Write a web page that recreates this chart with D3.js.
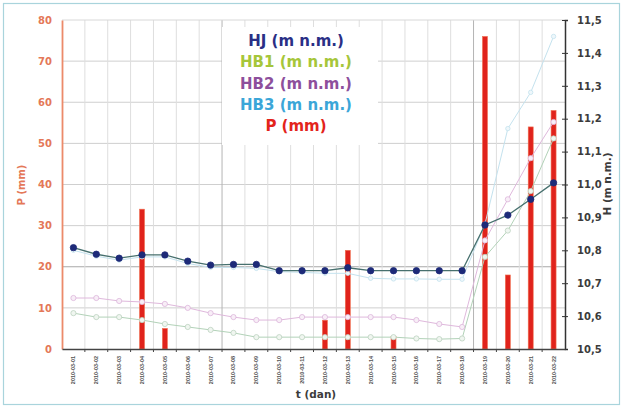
<!DOCTYPE html>
<html><head><meta charset="utf-8">
<script src="https://cdn.jsdelivr.net/npm/d3@7"></script>
<style>body{margin:0;background:#fff;}svg{display:block;font-family:"DejaVu Sans",Verdana,sans-serif;}</style>
</head><body><svg id="c" width="624" height="409"></svg>
<script>
const categories = ["2010-03-01","2010-03-02","2010-03-03","2010-03-04","2010-03-05","2010-03-06","2010-03-07","2010-03-08","2010-03-09","2010-03-10","2010-03-11","2010-03-12","2010-03-13","2010-03-14","2010-03-15","2010-03-16","2010-03-17","2010-03-18","2010-03-19","2010-03-20","2010-03-21","2010-03-22"];
const HJ  = [10.808,10.788,10.776,10.786,10.786,10.767,10.755,10.757,10.757,10.738,10.738,10.738,10.747,10.738,10.738,10.738,10.738,10.738,10.877,10.907,10.955,11.005];
const HB1 = [10.609,10.597,10.597,10.588,10.576,10.567,10.558,10.549,10.536,10.536,10.536,10.536,10.536,10.536,10.536,10.532,10.530,10.532,10.780,10.860,10.980,11.140];
const HB2 = [10.655,10.655,10.646,10.643,10.637,10.625,10.609,10.597,10.588,10.588,10.597,10.597,10.597,10.597,10.597,10.588,10.576,10.567,10.830,10.955,11.080,11.190];
const HB3 = [10.800,10.782,10.770,10.780,10.780,10.760,10.748,10.748,10.745,10.735,10.733,10.730,10.730,10.715,10.713,10.713,10.712,10.712,10.880,11.170,11.280,11.450];
const P   = [0,0,0,34,5,0,0,0,0,0,0,7,24,0,3,0,0,0,76,18,54,58];
const pTicks = [0,10,20,30,40,50,60,70,80];
const hTicks = [10.5,10.6,10.7,10.8,10.9,11.0,11.1,11.2,11.3,11.4,11.5];
const legendItems = ["HJ (m n.m.)","HB1 (m n.m.)","HB2 (m n.m.)","HB3 (m n.m.)","P (mm)"];

const svg = d3.select("#c");
const L = 62, R = 565, T = 20, B = 349;
svg.append("rect").attr("x",3.5).attr("y",3.5).attr("width",616).attr("height",401)
  .attr("fill","#fff").attr("stroke","#a9d4dc").attr("stroke-width",1.2);

const x = d3.scaleBand().domain(categories).range([L,R]).padding(0);
const yP = d3.scaleLinear().domain([0,80]).range([B,T]);
const yH = d3.scaleLinear().domain([10.5,11.5]).range([B,T]);

// grid
const g = svg.append("g");
g.selectAll(".hg").data(pTicks.filter(d=>d>0&&d<80)).join("line")
  .attr("x1",L).attr("x2",R).attr("y1",d=>yP(d)).attr("y2",d=>yP(d))
  .attr("stroke",d=>d===20?"#a8a8a8":"#cfcfcf").attr("stroke-width",1);
g.selectAll(".vg").data(categories.slice(1)).join("line")
  .attr("x1",d=>x(d)).attr("x2",d=>x(d)).attr("y1",T).attr("y2",B)
  .attr("stroke",(d,i)=>(i===6||i===17)?"#b4b4b4":"#dedede").attr("stroke-width",1);
svg.append("line").attr("x1",L).attr("x2",R).attr("y1",T).attr("y2",T).attr("stroke","#d8d8d8");

// legend box
const lg = svg.append("g");
lg.append("rect").attr("x",222).attr("y",27).attr("width",156).attr("height",118).attr("fill","#fff");
const lcol = ["#2a2f86","#a6c63a","#8d4f9c","#3ba6d8","#e3241b"];
lg.selectAll("text").data(legendItems).join("text")
  .attr("x",296).attr("y",(d,i)=>46+i*21.3).attr("text-anchor","middle")
  .attr("font-size",15).attr("font-weight","bold").attr("fill",(d,i)=>lcol[i]).text(d=>d);

// bars
const cx = d => x(d)+x.bandwidth()/2;
svg.append("g").selectAll("rect").data(categories.map((c,i)=>({c,v:P[i]})).filter(d=>d.v>0)).join("rect")
  .attr("x",d=>cx(d.c)-2.5).attr("width",5).attr("y",d=>yP(d.v)).attr("height",d=>B-yP(d.v))
  .attr("fill","#e0231c").attr("stroke","#f07050").attr("stroke-width",0.6);

// lines
function series(data, lineCol, lw, markerFill, markerStroke, r){
  const pts = categories.map((c,i)=>[cx(c), yH(data[i])]);
  svg.append("path").attr("d",d3.line()(pts)).attr("fill","none").attr("stroke",lineCol).attr("stroke-width",lw);
  svg.append("g").selectAll("circle").data(pts).join("circle")
    .attr("cx",d=>d[0]).attr("cy",d=>d[1]).attr("r",r)
    .attr("fill",markerFill).attr("stroke",markerStroke).attr("stroke-width",0.8);
}
series(HB1,"#b2d2b8",1,"#f0f6f0","#bcd2c0",2.6);
series(HB2,"#dfb8dc",1,"#f8eef7","#dcb6da",2.6);
series(HB3,"#c4e2ee",1,"#eef7fb","#c4e2ee",2.2);
series(HJ,"#47706e",1.3,"#1d2a78","#1d2a78",3.2);

// axes
const axL = svg.append("g").attr("transform",`translate(${L},0)`)
  .call(d3.axisLeft(yP).tickValues(pTicks).tickSize(0).tickPadding(10));
axL.select(".domain").attr("stroke","#ec8a6a").attr("stroke-width",1.8);
axL.selectAll("text").attr("font-size",10).attr("font-weight","bold").attr("fill","#e47858").attr("font-family","DejaVu Sans");

const axR = svg.append("g").attr("transform",`translate(${R},0)`)
  .call(d3.axisRight(yH).tickValues(hTicks).tickSize(3).tickPadding(9).tickFormat(d=>d3.format(".1f")(d).replace(".",",")));
axR.select(".domain").attr("stroke","#333").attr("stroke-width",1.5);
axR.selectAll(".tick line").attr("stroke","#333").attr("x1",-3);
axR.selectAll("text").attr("font-size",10).attr("font-weight","bold").attr("fill","#3c3c3c").attr("font-family","DejaVu Sans");

const axB = svg.append("g").attr("transform",`translate(0,${B})`)
  .call(d3.axisBottom(x).tickSize(0).tickPadding(6));
axB.select(".domain").attr("stroke","#444").attr("stroke-width",1.5);
axB.selectAll("text").attr("font-size",5.5).attr("font-weight","bold").attr("fill","#555").attr("font-family","Arial")
  .attr("transform","rotate(-90)").attr("text-anchor","end").attr("dx","-7").attr("dy","2").attr("y",0).attr("x",0);
svg.append("g").selectAll("line").data(categories.slice(1)).join("line")
  .attr("x1",d=>x(d)).attr("x2",d=>x(d)).attr("y1",B).attr("y2",B+3).attr("stroke","#444");

// axis titles
svg.append("text").attr("transform","translate(25,185) rotate(-90)").attr("text-anchor","middle")
  .attr("font-size",10).attr("font-weight","bold").attr("fill","#e47858").text("P (mm)");
svg.append("text").attr("transform","translate(611,184) rotate(-90)").attr("text-anchor","middle")
  .attr("font-size",10.5).attr("font-weight","bold").attr("fill","#3c3c3c").text("H (m n.m.)");
svg.append("text").attr("x",316).attr("y",398).attr("text-anchor","middle")
  .attr("font-size",10.5).attr("font-weight","bold").attr("fill","#3c3c3c").text("t (dan)");
</script></body></html>
